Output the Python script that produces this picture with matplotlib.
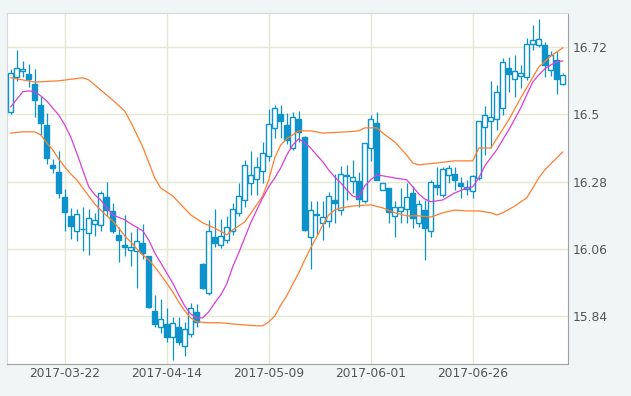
import numpy as np
import matplotlib
matplotlib.use("Agg")
import matplotlib.pyplot as plt

# daily OHLC (index 0..92)
opens = [16.507, 16.622, 16.641, 16.633, 16.600, 16.531, 16.466, 16.335, 16.312, 16.231,
         16.168, 16.118, 16.124, 16.111, 16.142, 16.137, 16.229, 16.184, 16.106, 16.073,
         16.055, 16.052, 16.080, 16.037, 15.857, 15.805, 15.814, 15.771, 15.804, 15.742,
         15.781, 15.852, 16.011, 15.915, 16.098, 16.072, 16.089, 16.117, 16.177, 16.220,
         16.275, 16.288, 16.315, 16.365, 16.455, 16.502, 16.466, 16.389, 16.485, 16.426,
         16.100, 16.173, 16.144, 16.151, 16.220, 16.187, 16.302, 16.283, 16.282, 16.215,
         16.389, 16.471, 16.253, 16.258, 16.166, 16.184, 16.190, 16.242, 16.146, 16.187,
         16.119, 16.269, 16.237, 16.302, 16.304, 16.275, 16.255, 16.248, 16.291, 16.460,
         16.479, 16.485, 16.520, 16.651, 16.616, 16.627, 16.621, 16.730, 16.728, 16.728,
         16.646, 16.678, 16.599]
highs = [16.648, 16.711, 16.675, 16.665, 16.648, 16.561, 16.504, 16.354, 16.381, 16.255,
         16.193, 16.190, 16.198, 16.190, 16.177, 16.248, 16.278, 16.211, 16.133, 16.171,
         16.116, 16.127, 16.141, 16.037, 15.909, 15.897, 15.866, 15.838, 15.838, 15.819,
         15.884, 15.880, 16.013, 16.155, 16.190, 16.157, 16.166, 16.209, 16.275, 16.351,
         16.381, 16.362, 16.411, 16.518, 16.531, 16.531, 16.504, 16.509, 16.512, 16.430,
         16.215, 16.215, 16.215, 16.247, 16.305, 16.331, 16.335, 16.351, 16.313, 16.408,
         16.498, 16.509, 16.277, 16.258, 16.215, 16.258, 16.275, 16.266, 16.220, 16.220,
         16.286, 16.329, 16.329, 16.335, 16.329, 16.296, 16.286, 16.302, 16.477, 16.529,
         16.608, 16.597, 16.686, 16.689, 16.695, 16.662, 16.749, 16.793, 16.813, 16.738,
         16.708, 16.706, 16.635]
lows = [16.502, 16.608, 16.622, 16.591, 16.491, 16.433, 16.338, 16.308, 16.226, 16.117,
        16.092, 16.085, 16.054, 16.040, 16.102, 16.117, 16.166, 16.113, 16.016, 16.035,
        16.004, 15.931, 16.028, 15.866, 15.805, 15.784, 15.756, 15.696, 15.745, 15.709,
        15.773, 15.805, 15.929, 15.909, 16.067, 16.062, 16.078, 16.106, 16.166, 16.198,
        16.237, 16.237, 16.275, 16.346, 16.422, 16.422, 16.402, 16.384, 16.411, 16.120,
        15.994, 16.106, 16.089, 16.130, 16.144, 16.171, 16.220, 16.242, 16.198, 16.209,
        16.346, 16.284, 16.253, 16.146, 16.100, 16.146, 16.144, 16.127, 16.131, 16.024,
        16.100, 16.237, 16.231, 16.275, 16.253, 16.228, 16.237, 16.228, 16.286, 16.368,
        16.389, 16.449, 16.498, 16.575, 16.558, 16.588, 16.613, 16.711, 16.722, 16.624,
        16.627, 16.567, 16.595]
closes = [16.635, 16.651, 16.648, 16.617, 16.548, 16.473, 16.356, 16.326, 16.244, 16.179,
          16.136, 16.173, 16.126, 16.160, 16.154, 16.242, 16.188, 16.120, 16.089, 16.067,
          16.065, 16.085, 16.045, 15.868, 15.815, 15.829, 15.773, 15.816, 15.756, 15.797,
          15.865, 15.822, 15.931, 16.119, 16.080, 16.102, 16.133, 16.190, 16.232, 16.335,
          16.302, 16.329, 16.373, 16.468, 16.520, 16.477, 16.416, 16.493, 16.442, 16.122,
          16.188, 16.170, 16.163, 16.233, 16.209, 16.305, 16.297, 16.294, 16.222, 16.406,
          16.484, 16.286, 16.277, 16.182, 16.196, 16.198, 16.231, 16.160, 16.206, 16.127,
          16.280, 16.262, 16.321, 16.324, 16.286, 16.267, 16.262, 16.297, 16.477, 16.498,
          16.493, 16.575, 16.670, 16.632, 16.643, 16.635, 16.730, 16.744, 16.747, 16.662,
          16.693, 16.615, 16.629]

# indicator lines (candle index, value)
upper_idx = [0, 2, 4, 8, 12, 13, 15, 17, 19, 20, 22, 24, 25, 27, 30, 32, 34, 36, 37, 39,
             41, 42, 43, 44, 45, 46, 48, 50, 52, 56, 58, 59, 61, 62, 64, 66, 67, 68, 71,
             74, 77, 78, 80, 83, 85, 88, 90, 92]
upper_val = [16.620, 16.613, 16.606, 16.610, 16.620, 16.613, 16.580, 16.547, 16.511, 16.475,
             16.394, 16.292, 16.259, 16.233, 16.171, 16.145, 16.128, 16.106, 16.122, 16.148,
             16.204, 16.233, 16.286, 16.358, 16.400, 16.420, 16.446, 16.446, 16.439, 16.443,
             16.446, 16.456, 16.456, 16.439, 16.410, 16.367, 16.341, 16.335, 16.341, 16.348,
             16.348, 16.390, 16.390, 16.482, 16.554, 16.655, 16.691, 16.718]

mid_idx = [0, 2, 3, 4, 5, 6, 7, 8, 9, 10, 11, 12, 13, 14, 15, 16, 17, 19, 20, 22, 23, 24,
           26, 27, 28, 29, 30, 31, 32, 33, 34, 35, 36, 37, 38, 39, 40, 41, 42, 43, 44, 45,
           46, 47, 48, 49, 50, 51, 52, 53, 54, 55, 56, 57, 58, 59, 60, 61, 62, 64, 66, 67,
           68, 69, 70, 72, 74, 76, 77, 78, 79, 80, 81, 82, 83, 84, 85, 86, 87, 88, 89, 90,
           91, 92]
mid_val = [16.525, 16.574, 16.577, 16.574, 16.561, 16.544, 16.521, 16.498, 16.466, 16.426,
           16.374, 16.318, 16.263, 16.237, 16.220, 16.194, 16.171, 16.155, 16.142, 16.119,
           16.089, 16.047, 15.981, 15.948, 15.909, 15.873, 15.847, 15.834, 15.834, 15.854,
           15.883, 15.909, 15.945, 16.001, 16.047, 16.096, 16.145, 16.187, 16.227, 16.263,
           16.292, 16.325, 16.367, 16.400, 16.420, 16.407, 16.390, 16.367, 16.345, 16.318,
           16.295, 16.276, 16.253, 16.233, 16.227, 16.266, 16.286, 16.302, 16.299, 16.292,
           16.286, 16.263, 16.240, 16.223, 16.214, 16.220, 16.243, 16.259, 16.263, 16.292,
           16.331, 16.358, 16.384, 16.417, 16.449, 16.485, 16.521, 16.564, 16.606, 16.629,
           16.649, 16.662, 16.672, 16.675]

lower_idx = [0, 2, 4, 5, 6, 7, 8, 9, 10, 11, 12, 13, 14, 15, 16, 17, 18, 19, 20, 21, 22,
             23, 24, 25, 26, 27, 28, 29, 30, 31, 33, 35, 37, 39, 41, 42, 43, 44, 45, 46,
             47, 48, 49, 50, 51, 52, 53, 54, 55, 57, 60, 62, 64, 66, 68, 70, 72, 74, 76,
             78, 80, 81, 82, 84, 86, 87, 88, 89, 90, 92]
lower_val = [16.439, 16.443, 16.443, 16.433, 16.407, 16.384, 16.354, 16.328, 16.305, 16.286,
             16.259, 16.233, 16.207, 16.187, 16.168, 16.151, 16.128, 16.102, 16.083, 16.060,
             16.040, 16.024, 16.001, 15.975, 15.948, 15.919, 15.886, 15.857, 15.834, 15.821,
             15.818, 15.818, 15.814, 15.811, 15.808, 15.808, 15.821, 15.840, 15.876, 15.906,
             15.945, 15.981, 16.024, 16.063, 16.099, 16.138, 16.171, 16.187, 16.194, 16.200,
             16.204, 16.194, 16.178, 16.168, 16.168, 16.164, 16.178, 16.187, 16.184, 16.184,
             16.178, 16.171, 16.178, 16.200, 16.227, 16.259, 16.292, 16.318, 16.338, 16.377]

tick_idx = [9, 26, 43, 60, 77]
tick_dates = ["2017-03-22", "2017-04-14", "2017-05-09", "2017-06-01", "2017-06-26"]
y_ticks = [15.84, 16.06, 16.28, 16.5, 16.72]

blue = "#0d93cb"
orange = "#ff7f2e"
magenta = "#d83ed8"

fig = plt.figure(figsize=(6.31, 3.96), dpi=100, facecolor="#f0f5f5")
ax = fig.add_axes([0.0111, 0.0808, 0.8891, 0.8864])
ax.set_facecolor("white")

o = np.array(opens)
h = np.array(highs)
l = np.array(lows)
c = np.array(closes)
x = np.arange(len(o))
up = c >= o

ax.vlines(x, l, h, color=blue, linewidth=0.9, zorder=2)
ax.bar(x[up], c[up] - o[up], bottom=o[up], width=0.76, facecolor="white",
       edgecolor=blue, linewidth=1.0, zorder=3)
ax.bar(x[~up], o[~up] - c[~up], bottom=c[~up], width=0.76, facecolor=blue,
       edgecolor=blue, linewidth=1.0, zorder=3)

ax.plot(upper_idx, upper_val, color=orange, linewidth=0.9, zorder=4)
ax.plot(lower_idx, lower_val, color=orange, linewidth=0.9, zorder=4)
ax.plot(mid_idx, mid_val, color=magenta, linewidth=0.9, zorder=4)

ax.set_xlim(-0.62, 92.88)
ax.set_ylim(15.683, 16.832)
ax.set_xticks(tick_idx)
ax.set_xticklabels(tick_dates)
ax.set_yticks(y_ticks)
ax.set_yticklabels(["15.84", "16.06", "16.28", "16.5", "16.72"])
ax.yaxis.tick_right()
ax.tick_params(axis="both", length=0, labelsize=8.8, labelcolor="#555555")
ax.tick_params(axis="x", pad=2)
ax.tick_params(axis="y", pad=3.5)
ax.grid(True, color="#e2e9cf", linewidth=1.0, zorder=0)
ax.set_axisbelow(True)

for side in ["top", "left"]:
    ax.spines[side].set_color("#d8d8d8")
for side in ["right", "bottom"]:
    ax.spines[side].set_color("#a0a0a0")

fig.savefig("out.png", dpi=100, facecolor=fig.get_facecolor())
